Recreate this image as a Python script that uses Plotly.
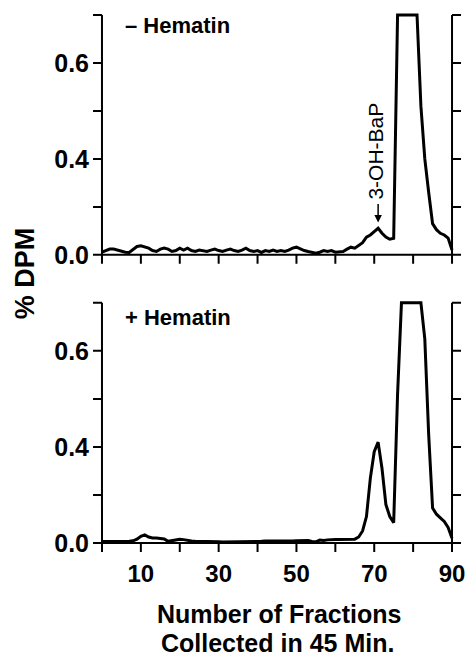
import plotly.graph_objects as go

fractions = list(range(0, 91))

minus_hematin = [
    0.011, 0.018, 0.024, 0.024, 0.020, 0.014, 0.011, 0.010, 0.024, 0.035,
    0.038, 0.032, 0.028, 0.018, 0.014, 0.024, 0.028, 0.024, 0.014, 0.018,
    0.028, 0.020, 0.028, 0.018, 0.014, 0.020, 0.018, 0.014, 0.020, 0.024,
    0.018, 0.014, 0.020, 0.024, 0.018, 0.014, 0.020, 0.028, 0.018, 0.014,
    0.018, 0.010, 0.018, 0.014, 0.020, 0.014, 0.018, 0.014, 0.020, 0.028,
    0.032, 0.024, 0.018, 0.014, 0.010, 0.007, 0.011, 0.018, 0.014, 0.018,
    0.011, 0.011, 0.014, 0.024, 0.032, 0.028, 0.038, 0.051, 0.074, 0.083,
    0.097, 0.111, 0.090, 0.074, 0.065, 0.069, 1.000, 1.000, 1.000, 1.000,
    1.000, 1.000, 0.620, 0.400, 0.260, 0.130, 0.105, 0.090, 0.083, 0.070, 0.020,
]

plus_hematin = [
    0.006, 0.006, 0.005, 0.005, 0.006, 0.005, 0.006, 0.007, 0.009, 0.016,
    0.028, 0.034, 0.025, 0.021, 0.021, 0.019, 0.017, 0.007, 0.011, 0.015,
    0.016, 0.014, 0.010, 0.008, 0.007, 0.007, 0.008, 0.007, 0.006, 0.005,
    0.005, 0.004, 0.004, 0.004, 0.004, 0.004, 0.005, 0.005, 0.005, 0.006,
    0.007, 0.007, 0.008, 0.007, 0.008, 0.008, 0.008, 0.007, 0.008, 0.008,
    0.009, 0.010, 0.012, 0.010, 0.006, 0.005, 0.012, 0.010, 0.013, 0.015,
    0.015, 0.015, 0.015, 0.015, 0.015, 0.016, 0.025, 0.050, 0.110, 0.270,
    0.380, 0.420, 0.310, 0.160, 0.110, 0.085, 0.620, 1.000, 1.000, 1.000,
    1.000, 1.000, 1.000, 0.850, 0.450, 0.146, 0.120, 0.105, 0.090, 0.065, 0.020,
]

y_tickvals = [0.0, 0.2, 0.4, 0.6, 0.8, 1.0]
y_ticktext = ["0.0", "", "0.4", "", "0.6", ""]
x_tickvals = list(range(0, 91, 10))
x_ticktext = ["", "10", "", "30", "", "50", "", "70", "", "90"]

X_MIN, X_MAX = 0, 90
Y_MIN, Y_MAX = 0.0, 1.0

W, H = 466, 658
PX_PER_X = 3.898      # pixels per fraction
PX_PER_Y = 240.0      # pixels per y unit
TICK_PX = 9
TX = TICK_PX / PX_PER_X
TY = TICK_PX / PX_PER_Y
X_RANGE = [X_MIN - TX - 1 / PX_PER_X, X_MAX + TX + 1 / PX_PER_X]
Y_RANGE = [Y_MIN - TY - 1 / PX_PER_Y, Y_MAX + 2 / PX_PER_Y]

ML = 101.7 - TICK_PX - 1
MR = W - (452.5 + TICK_PX + 1)
MT = 15 - 2
MB = H - (543.3 + TICK_PX + 1)
PW, PH = W - ML - MR, H - MT - MB
INK = "black"
FONT = "Liberation Sans"


def px_x(p):
    return (p - ML) / PW


def px_y(p):
    return (H - MB - p) / PH


top_dom = [px_y(255 + TICK_PX + 1), 1.0]
bot_dom = [0.0, px_y(303 - 2)]

fig = go.Figure()
fig.add_trace(go.Scatter(x=fractions, y=minus_hematin, mode="lines",
                         line=dict(color=INK, width=3), xaxis="x", yaxis="y",
                         showlegend=False, hoverinfo="skip"))
fig.add_trace(go.Scatter(x=fractions, y=plus_hematin, mode="lines",
                         line=dict(color=INK, width=3), xaxis="x2", yaxis="y2",
                         showlegend=False, hoverinfo="skip"))

common_x = dict(domain=[0, 1], range=X_RANGE, tickvals=x_tickvals, ticktext=x_ticktext,
                ticks="", showline=False, showgrid=False, zeroline=False,
                automargin=False, ticklabelstandoff=4,
                tickfont=dict(family=FONT, size=24, color=INK, weight="bold"))
common_y = dict(range=Y_RANGE, tickvals=y_tickvals, ticktext=y_ticktext,
                ticks="", showline=False, showgrid=False, zeroline=False,
                automargin=False, ticklabelstandoff=2,
                tickfont=dict(family=FONT, size=25, color=INK, weight="bold"))

fig.update_layout(
    width=W, height=H, margin=dict(l=ML, r=MR, t=MT, b=MB, autoexpand=False),
    paper_bgcolor="white", plot_bgcolor="rgba(0,0,0,0)",
    xaxis=dict(common_x, anchor="y", showticklabels=False),
    yaxis=dict(common_y, anchor="x", domain=top_dom),
    xaxis2=dict(common_x, anchor="y2", showticklabels=True),
    yaxis2=dict(common_y, anchor="x2", domain=bot_dom),
)

# frame lines and tick marks, drawn in each panel's data coordinates
frame = dict(color=INK, width=2)
for xr, yr in (("x", "y"), ("x2", "y2")):
    fig.add_shape(type="line", xref=xr, yref=yr, x0=X_MIN, x1=X_MIN, y0=Y_MIN, y1=Y_MAX, line=frame)
    fig.add_shape(type="line", xref=xr, yref=yr, x0=X_MAX, x1=X_MAX, y0=Y_MIN, y1=Y_MAX, line=frame)
    fig.add_shape(type="line", xref=xr, yref=yr, x0=X_MIN, x1=X_MAX, y0=Y_MIN, y1=Y_MIN, line=frame)
    for v in y_tickvals:
        fig.add_shape(type="line", xref=xr, yref=yr, x0=X_MIN - TX, x1=X_MIN, y0=v, y1=v, line=frame)
        fig.add_shape(type="line", xref=xr, yref=yr, x0=X_MAX, x1=X_MAX + TX, y0=v, y1=v, line=frame)
    for v in x_tickvals:
        fig.add_shape(type="line", xref=xr, yref=yr, x0=v, x1=v, y0=Y_MIN, y1=Y_MIN - TY, line=frame)

lab = dict(family=FONT, size=22, color=INK, weight="bold")
big = dict(family=FONT, size=25, color=INK, weight="bold")
ann = [
    dict(text="\u2013 Hematin", x=px_x(123), y=px_y(26), xref="paper", yref="paper",
         xanchor="left", yanchor="middle", showarrow=False, font=lab),
    dict(text="+ Hematin", x=px_x(123), y=px_y(318), xref="paper", yref="paper",
         xanchor="left", yanchor="middle", showarrow=False, font=lab),
    dict(text="3-OH-BaP", x=px_x(376), y=px_y(151), xref="paper", yref="paper",
         xanchor="center", yanchor="middle", textangle=-90, showarrow=False,
         font=dict(family=FONT, size=21, color=INK)),
    dict(text="", x=71, y=0.135, xref="x", yref="y", ax=0, ay=-20,
         showarrow=True, arrowhead=2, arrowsize=1, arrowwidth=1.5, arrowcolor=INK),
    dict(text="% DPM", x=px_x(24), y=px_y(273), xref="paper", yref="paper",
         xanchor="center", yanchor="middle", textangle=-90, showarrow=False,
         font=dict(family=FONT, size=27, color=INK, weight="bold")),
    dict(text="Number of Fractions", x=px_x(279), y=px_y(614), xref="paper", yref="paper",
         xanchor="center", yanchor="middle", showarrow=False, font=big),
    dict(text="Collected in 45 Min.", x=px_x(278), y=px_y(643), xref="paper", yref="paper",
         xanchor="center", yanchor="middle", showarrow=False, font=big),
]
fig.update_layout(annotations=ann)

fig.write_html(
    "out.html",
    config={"displayModeBar": False},
    post_script="document.body.style.margin='0px';document.body.style.overflow='hidden';",
)
